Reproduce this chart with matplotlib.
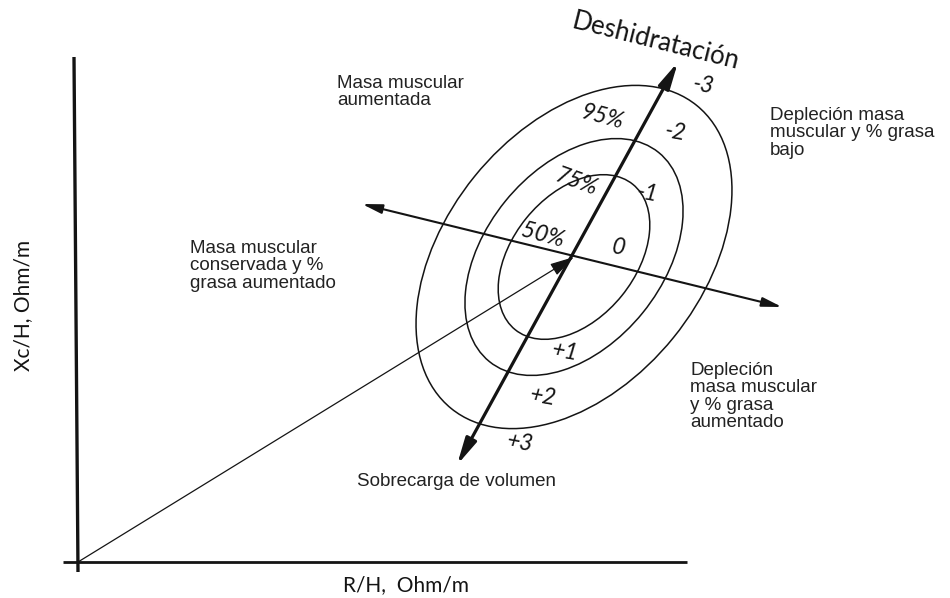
import matplotlib
matplotlib.use('Agg')
import matplotlib.pyplot as plt
from matplotlib.patches import Ellipse, FancyArrowPatch

# data (arbitrary R/H, Xc/H units, origin at the axes corner)
centre = (496, 305)
levels = ['50%', '75%', '95%']
ell_width = [187, 269, 390]
ell_height = [123, 177, 256]
ell_angle = 51
level_pos = [(465, 327), (499, 380), (525, 445)]
level_rot = [-15, -20, -15]

hydration_axis = [(379, 97), (600, 500)]
cross_axis = [(284, 358), (704, 255)]
hydration_ticks = ['+3', '+2', '+1', '0', '-1', '-2', '-3']
tick_pos = [(442, 119), (465, 165), (487, 210), (540, 314), (569, 369), (597, 430), (625, 477)]

ink = '#141414'

fig = plt.figure(figsize=(9.5, 5.98), dpi=100)
ax = fig.add_axes([0, 0, 1, 1])
ax.set_xlim(-78, 872)
ax.set_ylim(-36, 562)
ax.axis('off')

# axes of the RXc graph
ax.plot([-4, 0], [505, -10], color=ink, lw=2.4, solid_capstyle='butt')
ax.plot([-15, 609], [0, 0], color=ink, lw=2.0, solid_capstyle='butt')

# tolerance ellipses
for w, h in zip(ell_width, ell_height):
    ax.add_patch(Ellipse(centre, w, h, angle=ell_angle, fill=False, ec=ink, lw=1.1))

# vector from origin to the mean
ax.add_patch(FancyArrowPatch((0, 0), centre, arrowstyle='-|>,head_length=1.5,head_width=0.4',
                             mutation_scale=10, color=ink, lw=0.9, shrinkA=0, shrinkB=0))

# hydration axis (thick) and cross axis
ax.add_patch(FancyArrowPatch(hydration_axis[0], hydration_axis[1],
                             arrowstyle='<|-|>,head_length=1.6,head_width=0.35',
                             mutation_scale=10, color=ink, lw=2.3, shrinkA=0, shrinkB=0))
ax.add_patch(FancyArrowPatch(cross_axis[0], cross_axis[1],
                             arrowstyle='<|-|>,head_length=1.2,head_width=0.28',
                             mutation_scale=10, color=ink, lw=1.5, shrinkA=0, shrinkB=0))

num_font = dict(family=['Lato', 'DejaVu Sans'], style='italic', fontsize=16.5, color=ink,
                ha='center', va='center')
for lab, (x, y), r in zip(levels, level_pos, level_rot):
    ax.text(x, y, lab, rotation=r, **num_font)
for lab, (x, y) in zip(hydration_ticks, tick_pos):
    ax.text(x, y, lab, rotation=-10, **num_font)

ax.text(578, 521, 'Deshidratación', family=['Lato', 'DejaVu Sans'], fontsize=18.5,
        rotation=-14, ha='center', va='center', color=ink)

reg = dict(family=['Liberation Sans', 'DejaVu Sans'], fontsize=13.5, color='#222222',
           ha='left', va='top', linespacing=1.02)
ax.text(259, 487, 'Masa muscular\naumentada', **reg)
ax.text(112, 322, 'Masa muscular\nconservada y %\ngrasa aumentado', **reg)
ax.text(692, 455, 'Depleción masa\nmuscular y % grasa\nbajo', **reg)
ax.text(612, 200, 'Depleción\nmasa muscular\ny % grasa\naumentado', **reg)
ax.text(279, 80, 'Sobrecarga de volumen', family=['Liberation Sans', 'DejaVu Sans'],
        fontsize=13.5, color='#222222', ha='left', va='center')

ax.text(265, -23, 'R/H,  Ohm/m', family=['Lato', 'DejaVu Sans'], fontsize=15,
        ha='left', va='center', color=ink)
ax.text(-55, 257, 'Xc/H, Ohm/m', family=['Lato', 'DejaVu Sans'], fontsize=15,
        rotation=90, ha='center', va='center', color=ink)

fig.savefig('out.png', dpi=100, facecolor='white')
